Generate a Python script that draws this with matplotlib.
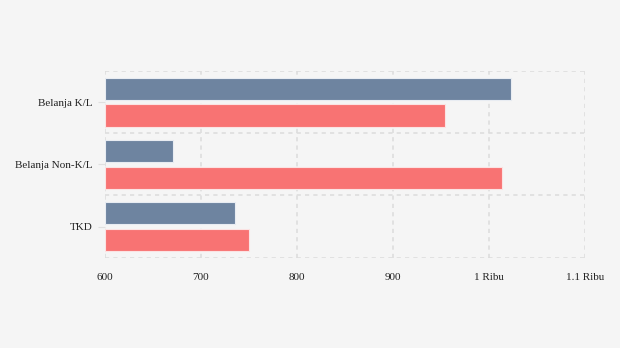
import matplotlib.pyplot as plt
import numpy as np

categories = ['Belanja K/L', 'Belanja Non-K/L', 'TKD']
series_a = [1023, 671, 735]
series_b = [954, 1014, 750]
x_ticks = [600, 700, 800, 900, 1000, 1100]
x_tick_labels = ['600', '700', '800', '900', '1 Ribu', '1.1 Ribu']

plt.rcParams['font.family'] = ['Liberation Serif', 'DejaVu Serif']

bg = '#f5f5f5'
grid_color = '#dddddd'

fig = plt.figure(figsize=(6.2, 3.48), dpi=100, facecolor=bg)
ax = fig.add_axes([0.1694, 0.2595, 0.774, 0.5365], facecolor=bg)

y = np.arange(len(categories))
h = 0.358
off = 0.216
ax.barh(y - off, np.array(series_a) - 600, left=600, height=h,
        color='#6e84a0', edgecolor='#e8ecf2', linewidth=0.8, zorder=3)
ax.barh(y + off, np.array(series_b) - 600, left=600, height=h,
        color='#f87373', edgecolor='#fbe3e3', linewidth=0.8, zorder=3)

ax.set_xlim(600, 1100)
ax.set_ylim(len(categories) - 0.5, -0.5)

# dashed grid: verticals at ticks, horizontals between categories
for xv in x_ticks:
    ax.axvline(xv, color=grid_color, linestyle=(0, (2.5, 2.5)), linewidth=1.2, zorder=1)
for yv in np.arange(-0.5, len(categories), 1.0):
    ax.axhline(yv, color=grid_color, linestyle=(0, (2.5, 2.5)), linewidth=1.2, zorder=1)

for s in ax.spines.values():
    s.set_visible(False)

ax.set_xticks(x_ticks)
ax.set_xticklabels(x_tick_labels, fontsize=8, color='#222222')
ax.set_yticks(y)
ax.set_yticklabels(categories, fontsize=8, color='#222222')
ax.tick_params(axis='x', length=0, pad=11)
ax.tick_params(axis='y', length=5, color='#e0e0e0', pad=4)

fig.savefig('out.png', dpi=100, facecolor=bg)
